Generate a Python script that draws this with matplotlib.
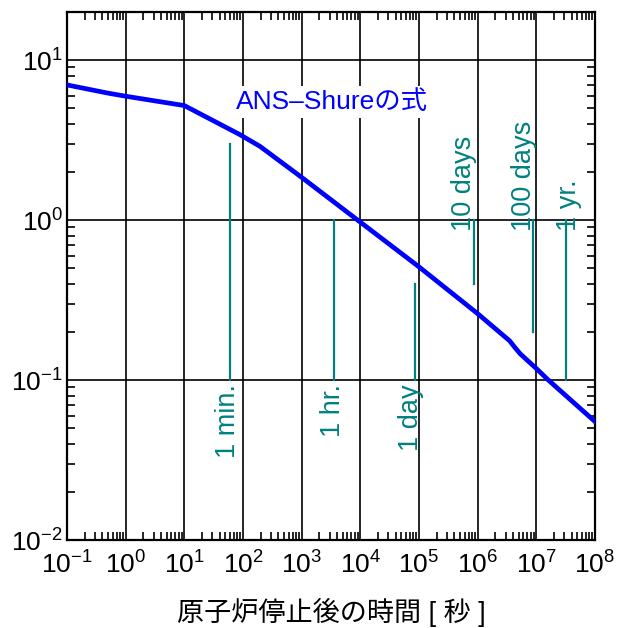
import matplotlib
matplotlib.use("Agg")
import matplotlib.pyplot as plt
from matplotlib.ticker import LogLocator, NullFormatter

plt.rcParams["font.family"] = ["Liberation Sans", "Noto Sans CJK JP"]
plt.rcParams["mathtext.fontset"] = "custom"
plt.rcParams["mathtext.rm"] = "Liberation Sans"
plt.rcParams["mathtext.it"] = "Liberation Sans:italic"
plt.rcParams["axes.unicode_minus"] = True

# ── Data ─────────────────────────────────────────────────────────────────────
# ANS-Shure decay heat curve: time after shutdown [s] vs. ratio [%]
t_curve = [0.1, 0.5, 1, 10, 89, 195, 1000, 9000, 1e5, 1e6,
           3.5e6, 4.3e6, 5.3e6, 1e7, 1.6e7, 1e8]
p_curve = [7.0, 6.22, 5.95, 5.2, 3.42, 2.89, 1.85, 1.0, 0.51, 0.26,
           0.176, 0.16, 0.146, 0.118, 0.1, 0.055]

# time markers: label, time [s], line bottom, line top
mark_labels = ["1 min.", "1 hr.", "1 day", "10 days", "100 days", "1 yr."]
mark_t = [60, 3600, 86400, 864000, 8.64e6, 3.15e7]
mark_lo = [0.1, 0.1, 0.1, 0.4, 0.2, 0.1]
mark_hi = [3.0, 1.0, 0.4, 1.0, 1.0, 1.0]
mark_below = [True, True, True, False, False, False]
mark_dx = [-2, -1, -4, -10, -9, 3]   # label offset from line, pixels

TEAL = "#008080"

fig = plt.figure(figsize=(6.22, 6.28), dpi=100)
ax = fig.add_axes([67 / 622, 1 - 540 / 628, 528 / 622, 528 / 628])

ax.set_xscale("log")
ax.set_yscale("log")
ax.set_xlim(1e-1, 1e8)
ax.set_ylim(1e-2, 20)

ax.plot(t_curve, p_curve, color="#0000ff", lw=3.4, zorder=4, solid_joinstyle="round")

for lab, t, lo, hi, below, dx in zip(mark_labels, mark_t, mark_lo, mark_hi,
                                     mark_below, mark_dx):
    ax.plot([t, t], [lo, hi], color=TEAL, lw=1.6, zorder=3)
    if below:
        ax.annotate(lab, xy=(t, lo), xytext=(dx * 0.72, -3), textcoords="offset points",
                    rotation=90, ha="center", va="top", color=TEAL, fontsize=19.5)
    else:
        ax.annotate(lab, xy=(t, hi), xytext=(dx * 0.72, -8), textcoords="offset points",
                    rotation=90, ha="center", va="bottom", color=TEAL, fontsize=19.5)

ax.text(76, 5.5, "ANS–Shureの式", color="#0000ff", fontsize=19, ha="left", va="center",
        zorder=5, bbox=dict(boxstyle="square,pad=0.15", fc="white", ec="none"))

# ticks and grid
ax.xaxis.set_major_locator(LogLocator(base=10, numticks=20))
ax.yaxis.set_major_locator(LogLocator(base=10, numticks=20))
ax.xaxis.set_minor_locator(LogLocator(base=10, subs=range(2, 10), numticks=20))
ax.yaxis.set_minor_locator(LogLocator(base=10, subs=range(2, 10), numticks=20))
ax.xaxis.set_minor_formatter(NullFormatter())
ax.yaxis.set_minor_formatter(NullFormatter())
ax.tick_params(which="both", direction="in", top=True, right=True, colors="black")
ax.tick_params(which="major", length=0, labelsize=19)
ax.tick_params(axis="x", which="major", pad=8)
ax.tick_params(axis="y", which="major", pad=3)
ax.tick_params(which="minor", length=5.5, width=1.2)
ax.grid(True, which="major", color="black", lw=1.2)
for s in ax.spines.values():
    s.set_linewidth(1.6)

ax.set_xlabel("原子炉停止後の時間 [ 秒 ]", fontsize=19.5, labelpad=14)

fig.savefig("out.png", dpi=100)
